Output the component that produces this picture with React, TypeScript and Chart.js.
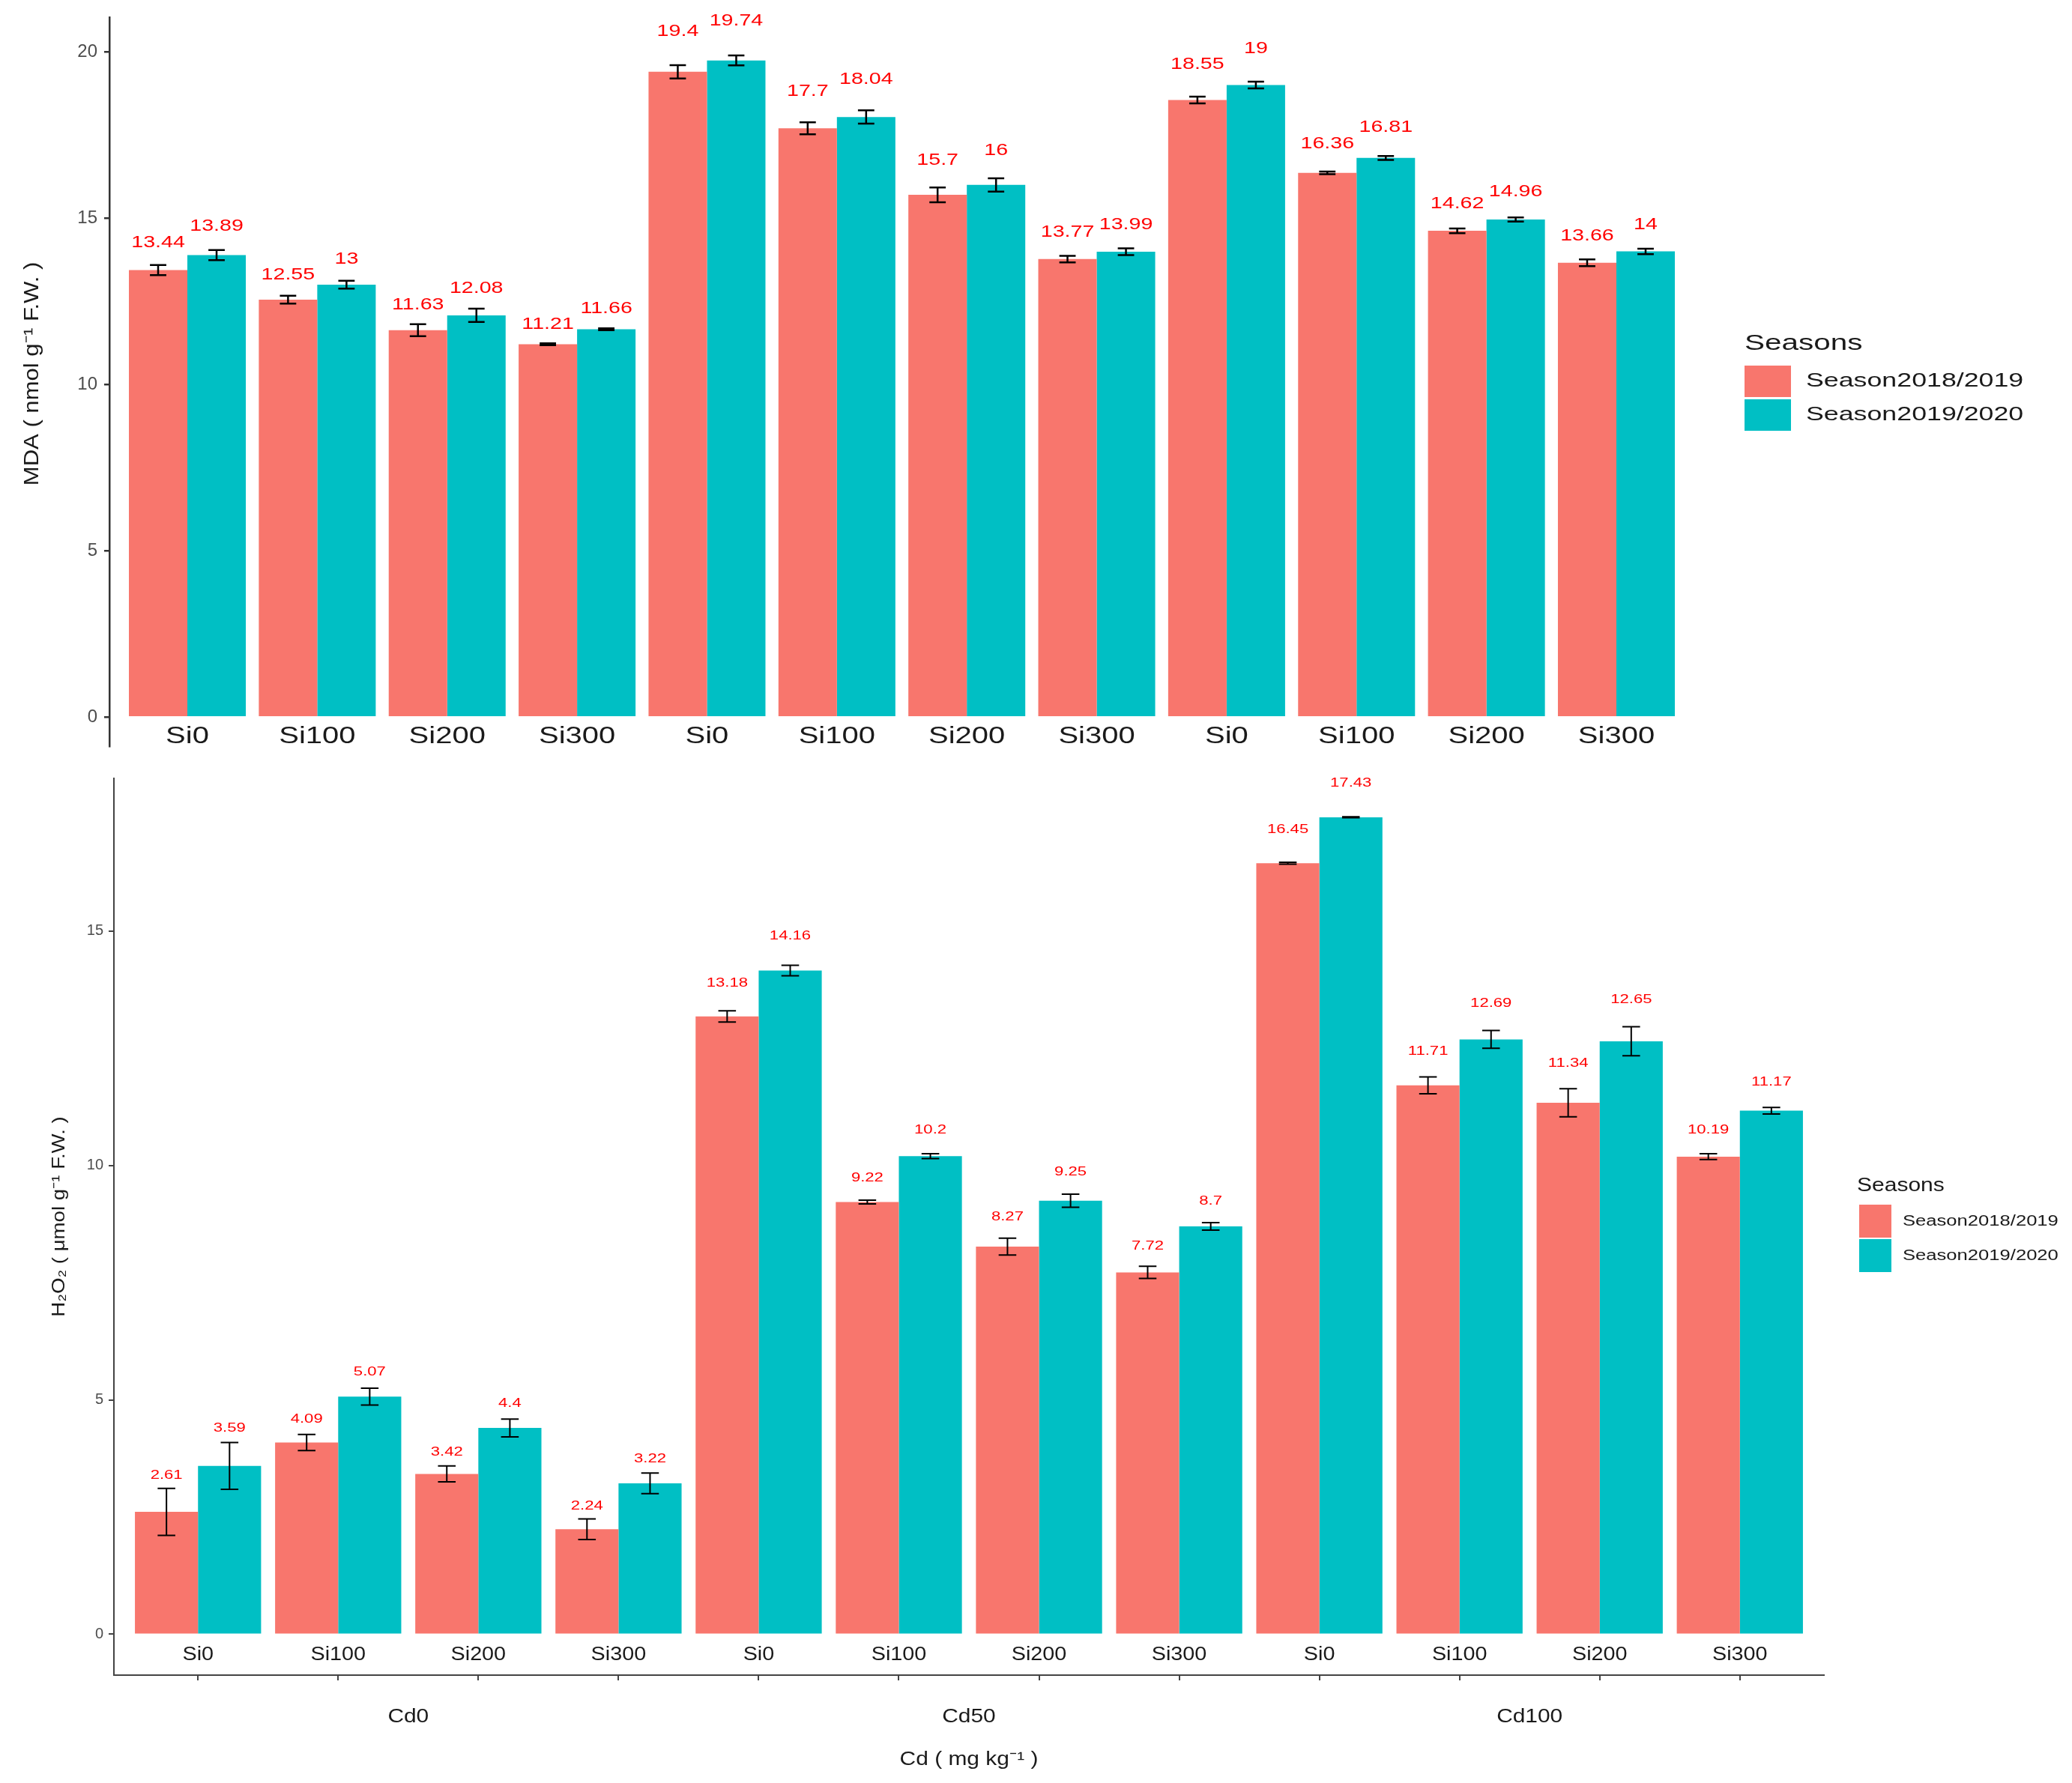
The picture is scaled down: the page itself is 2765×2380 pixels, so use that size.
import { useEffect, useRef } from "react";
import { Chart, ChartConfiguration, registerables } from "chart.js";

Chart.register(...registerables);

// categories
const siLevels = ["Si0", "Si100", "Si200", "Si300", "Si0", "Si100", "Si200", "Si300", "Si0", "Si100", "Si200", "Si300"];
const cdLevels = ["Cd0", "Cd50", "Cd100"];
const seasons = ["Season2018/2019", "Season2019/2020"];

// MDA (top panel)
const mda1819 = [13.44, 12.55, 11.63, 11.21, 19.4, 17.7, 15.7, 13.77, 18.55, 16.36, 14.62, 13.66];
const mda1920 = [13.89, 13, 12.08, 11.66, 19.74, 18.04, 16, 13.99, 19, 16.81, 14.96, 14];
const mdaSe1819 = [0.15, 0.12, 0.18, 0.03, 0.2, 0.18, 0.22, 0.1, 0.1, 0.04, 0.07, 0.1];
const mdaSe1920 = [0.15, 0.12, 0.2, 0.03, 0.15, 0.2, 0.2, 0.1, 0.1, 0.06, 0.06, 0.08];
const mdaTicks = [0, 5, 10, 15, 20];

// H2O2 (bottom panel)
const h2o2_1819 = [2.61, 4.09, 3.42, 2.24, 13.18, 9.22, 8.27, 7.72, 16.45, 11.71, 11.34, 10.19];
const h2o2_1920 = [3.59, 5.07, 4.4, 3.22, 14.16, 10.2, 9.25, 8.7, 17.43, 12.69, 12.65, 11.17];
const h2o2Se1819 = [0.5, 0.17, 0.17, 0.22, 0.12, 0.04, 0.18, 0.13, 0.02, 0.18, 0.3, 0.06];
const h2o2Se1920 = [0.5, 0.18, 0.19, 0.22, 0.11, 0.05, 0.14, 0.08, 0.01, 0.19, 0.31, 0.07];
const h2o2Ticks = [0, 5, 10, 15];

const RED = "#F8766D";
const TEAL = "#00BFC4";
const INK = "#1a1a1a";
const FONT = "'Liberation Sans', Arial, sans-serif";
const W = 2765;

function stretchText(
  ctx: CanvasRenderingContext2D,
  text: string,
  x: number,
  y: number,
  size: number,
  color: string,
  sx: number,
  align: CanvasTextAlign = "center",
  rotate = 0
) {
  ctx.save();
  ctx.font = `${size}px ${FONT}`;
  ctx.fillStyle = color;
  ctx.textAlign = align;
  ctx.textBaseline = "middle";
  ctx.translate(x, y);
  if (rotate) ctx.rotate(rotate);
  ctx.scale(sx, 1);
  ctx.fillText(text, 0, 0);
  ctx.restore();
}

type PanelOpts = {
  v1: number[];
  v2: number[];
  se1: number[];
  se2: number[];
  yMin: number;
  yMax: number;
  yTicks: number[];
  yWidth: number;
  xHeight: number;
  padTop: number;
  padRight: number;
  tickFont: number;
  tickPad: number;
  axisColor: string;
  axisWidth: number;
  showXAxis: boolean;
  errWidth: number;
  labelFont: number;
  labelA: number;
  labelB: number;
  siFont: number;
  siStretch: number;
  siOffset: number;
  yTitle: string;
  yTitlePos: [number, number];
  yTitleFont: number;
  legend: {
    x: number;
    titleY: number;
    titleFont: number;
    titleStretch: number;
    swX: number;
    swW: number;
    swY: number[];
    swH: number;
    textX: number;
    textFont: number;
    textStretch: number;
  };
  extra?: (chart: Chart) => void;
};

function buildConfig(p: PanelOpts): ChartConfiguration {
  const seList = [p.se1, p.se2];
  const decorations = {
    id: "decorations",
    afterDatasetsDraw(chart: Chart) {
      const ctx = chart.ctx;
      const y = chart.scales.y;
      const x = chart.scales.x;
      // error bars + value labels
      chart.data.datasets.forEach((ds, di) => {
        const meta = chart.getDatasetMeta(di);
        meta.data.forEach((el: any, i) => {
          const v = (ds.data[i] as any).y as number;
          const se = seList[di][i];
          const top = y.getPixelForValue(v + se);
          const bot = y.getPixelForValue(v - se);
          const cap = (el.width * 0.28) / 2;
          ctx.save();
          ctx.strokeStyle = "#000";
          ctx.lineWidth = p.errWidth;
          ctx.beginPath();
          ctx.moveTo(el.x, top);
          ctx.lineTo(el.x, bot);
          ctx.moveTo(el.x - cap, top);
          ctx.lineTo(el.x + cap, top);
          ctx.moveTo(el.x - cap, bot);
          ctx.lineTo(el.x + cap, bot);
          ctx.stroke();
          ctx.restore();
          const ly = y.getPixelForValue(v + se + p.labelA + p.labelB * v);
          stretchText(ctx, String(v), el.x, ly, p.labelFont, "#FF0000", 1.3);
        });
      });
      // Si labels inside the panel, under the bars
      const zero = y.getPixelForValue(0);
      siLevels.forEach((s, i) => {
        stretchText(ctx, s, x.getPixelForValue(i), zero + p.siOffset, p.siFont, INK, p.siStretch);
      });
    },
    afterDraw(chart: Chart) {
      const ctx = chart.ctx;
      stretchText(ctx, p.yTitle, p.yTitlePos[0], p.yTitlePos[1], p.yTitleFont, INK, 1.15, "center", -Math.PI / 2);
      const L = p.legend;
      stretchText(ctx, "Seasons", L.x, L.titleY, L.titleFont, INK, L.titleStretch, "left");
      [RED, TEAL].forEach((c, i) => {
        ctx.fillStyle = c;
        ctx.fillRect(L.swX, L.swY[i], L.swW, L.swH);
        stretchText(ctx, seasons[i], L.textX, L.swY[i] + L.swH / 2, L.textFont, INK, L.textStretch, "left");
      });
      if (p.extra) p.extra(chart);
    },
  };

  return {
    type: "bar",
    data: {
      datasets: [
        {
          label: seasons[0],
          data: p.v1.map((v, i) => ({ x: i, y: v })),
          backgroundColor: RED,
          borderWidth: 0,
        },
        {
          label: seasons[1],
          data: p.v2.map((v, i) => ({ x: i, y: v })),
          backgroundColor: TEAL,
          borderWidth: 0,
        },
      ],
    },
    options: {
      responsive: false,
      animation: false,
      devicePixelRatio: 1,
      events: [],
      layout: { padding: { top: p.padTop, right: p.padRight, left: 0, bottom: 0 } },
      datasets: { bar: { categoryPercentage: 0.9, barPercentage: 1 } },
      plugins: { legend: { display: false }, tooltip: { enabled: false } },
      scales: {
        x: {
          type: "linear",
          min: -0.6,
          max: 11.6,
          offset: false,
          grid: {
            display: p.showXAxis,
            drawOnChartArea: false,
            offset: false,
            tickLength: 7,
            color: p.axisColor,
            lineWidth: p.axisWidth,
          },
          border: { display: p.showXAxis, color: p.axisColor, width: p.axisWidth },
          ticks: { display: false, autoSkip: false },
          afterBuildTicks: (s: any) => {
            s.ticks = siLevels.map((_, i) => ({ value: i }));
          },
          afterFit: (s: any) => {
            s.height = p.xHeight;
          },
        },
        y: {
          type: "linear",
          min: p.yMin,
          max: p.yMax,
          grid: {
            drawOnChartArea: false,
            tickLength: 7,
            color: p.axisColor,
            lineWidth: p.axisWidth,
          },
          border: { display: true, color: p.axisColor, width: p.axisWidth },
          ticks: {
            color: "#4D4D4D",
            padding: p.tickPad,
            font: { family: FONT, size: p.tickFont },
          },
          afterBuildTicks: (s: any) => {
            s.ticks = p.yTicks.map((value) => ({ value }));
          },
          afterFit: (s: any) => {
            s.width = p.yWidth;
          },
        },
      },
    },
    plugins: [decorations],
  } as ChartConfiguration;
}

const topConfig = () =>
  buildConfig({
    v1: mda1819,
    v2: mda1920,
    se1: mdaSe1819,
    se2: mdaSe1920,
    yMin: -0.87,
    yMax: 21.03,
    yTicks: mdaTicks,
    yWidth: 146,
    xHeight: 24,
    padTop: 18,
    padRight: 504,
    tickFont: 24,
    tickPad: 9,
    axisColor: "#333333",
    axisWidth: 2.5,
    showXAxis: false,
    errWidth: 2.5,
    labelFont: 22,
    labelA: -0.07,
    labelB: 0.056,
    siFont: 32,
    siStretch: 1.25,
    siOffset: 26,
    yTitle: "MDA ( nmol g⁻¹ F.W. )",
    yTitlePos: [44, 499],
    yTitleFont: 27,
    legend: {
      x: 2328,
      titleY: 459,
      titleFont: 30,
      titleStretch: 1.35,
      swX: 2328,
      swW: 62,
      swY: [488, 533],
      swH: 42,
      textX: 2410,
      textFont: 25,
      textStretch: 1.43,
    },
  });

const bottomConfig = () =>
  buildConfig({
    v1: h2o2_1819,
    v2: h2o2_1920,
    se1: h2o2Se1819,
    se2: h2o2Se1920,
    yMin: -0.873,
    yMax: 18.26,
    yTicks: h2o2Ticks,
    yWidth: 152,
    xHeight: 144,
    padTop: 17,
    padRight: 331,
    tickFont: 20,
    tickPad: 7,
    axisColor: "#444444",
    axisWidth: 2,
    showXAxis: true,
    errWidth: 2,
    labelFont: 17,
    labelA: 0.2,
    labelB: 0.03,
    siFont: 25,
    siStretch: 1.15,
    siOffset: 28,
    yTitle: "H₂O₂ ( μmol g⁻¹ F.W. )",
    yTitlePos: [79, 604],
    yTitleFont: 24,
    legend: {
      x: 2478,
      titleY: 563,
      titleFont: 25,
      titleStretch: 1.2,
      swX: 2481,
      swW: 43,
      swY: [588, 634],
      swH: 44,
      textX: 2539,
      textFont: 20,
      textStretch: 1.28,
    },
    extra: (chart) => {
      const ctx = chart.ctx;
      const x = chart.scales.x;
      const area = chart.chartArea;
      cdLevels.forEach((c, g) => {
        stretchText(ctx, c, x.getPixelForValue(g * 4 + 1.5), area.bottom + 56, 26, INK, 1.15);
      });
      stretchText(ctx, "Cd ( mg kg⁻¹ )", (area.left + area.right) / 2, area.bottom + 113, 26, INK, 1.15);
    },
  });

function Panel({ top, height, config }: { top: number; height: number; config: () => ChartConfiguration }) {
  const ref = useRef<HTMLCanvasElement | null>(null);
  useEffect(() => {
    let chart: Chart | null = null;
    if (ref.current) chart = new Chart(ref.current, config());
    return () => {
      if (chart) chart.destroy();
    };
  }, []);
  return (
    <canvas
      ref={ref}
      width={W}
      height={height}
      style={{ position: "absolute", left: 0, top, width: W, height }}
    />
  );
}

export default function App() {
  useEffect(() => {
    document.body.style.margin = "0";
  }, []);
  return (
    <div style={{ position: "relative", width: W, height: 2380, background: "#fff" }}>
      <Panel top={0} height={1020} config={topConfig} />
      <Panel top={1020} height={1360} config={bottomConfig} />
    </div>
  );
}
